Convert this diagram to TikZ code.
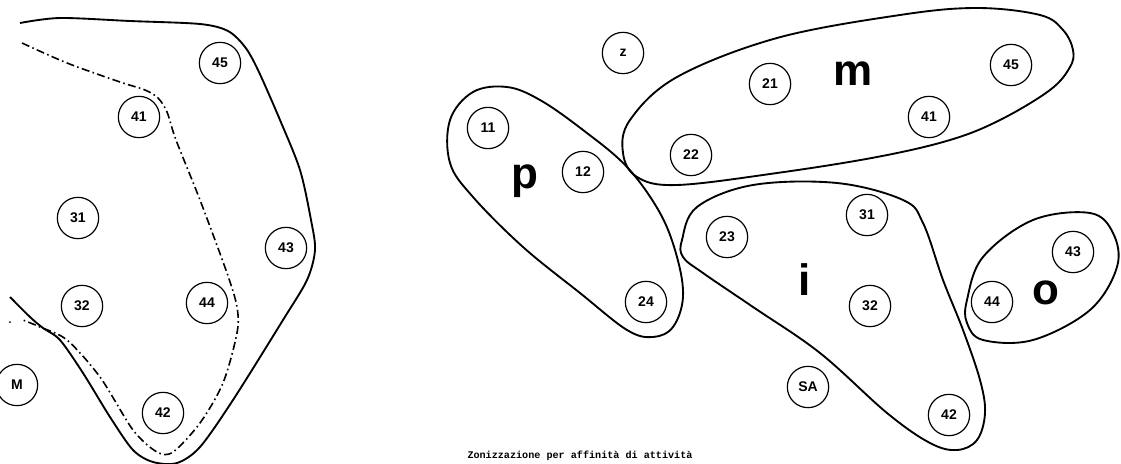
\documentclass[tikz,border=0pt]{standalone}
\usepackage{fontspec}
\setmainfont{Liberation Sans}
\newfontfamily\capfont{Liberation Mono}

\begin{document}
\begin{tikzpicture}[x=0.75pt,y=-0.75pt,
    room/.style={draw,circle,line width=0.9pt,minimum size=31pt,inner sep=0pt,font=\bfseries\fontsize{10.5}{11}\selectfont},
    zone/.style={font=\bfseries\fontsize{33}{33}\selectfont},
    blob/.style={line width=1.4pt}]
        \useasboundingbox (0,0) rectangle (1121,464);

        \node[room] (L45) at (220,63){45};
        \node[room] (L41) at (139,117){41};
        \node[room] (L31) at (78,218){31};
        \node[room] (L43) at (286,248){43};
        \node[room] (L32) at (82,306){32};
        \node[room] (L44) at (207,303){44};
        \node[room] (L42) at (163,413){42};

        \begin{scope}
        \clip (0,0) rectangle (1121,464);
        \node[room] (LM) at (17,385){M};
        \end{scope}

        \draw[blob] plot[smooth] coordinates {(20,23) (60,18) (130,21) (200,24) (228,31)
            (245,47) (258,70) (280,120) (300,170) (311,220) (315,250) (307,280) (283,320)
            (233,400) (200,447) (177,463) (153,462) (133,450) (110,417) (83,373) (60,340)
            (43,328) (30,317) (10,297)};
        \draw[line width=1.2pt,dash pattern=on 6pt off 2.5pt on 1.2pt off 2.5pt] plot[smooth] coordinates {(22,43) (67,63) (120,82) (145,90)
            (158,98) (167,112) (176,140) (200,200) (227,273) (237,307) (237,333) (223,383)
            (200,423) (173,452) (157,452) (133,430) (100,377) (67,340) (40,327) (23,320)};
        \fill (10,322) circle(1);


        \node[room] (z) at (623,53){z};

        \node[room] (R11) at (488,128){11};
        \node[room] (R12) at (583,172){12};
        \node[room] (R24) at (646,302){24};
        \node[zone] (p) at (525,181){p};
        \draw[blob] plot[smooth cycle,tension=0.6] coordinates {(450,120) (473,92) (507,87) (540,100)
            (583,130) (627,167) (660,213) (677,257) (683,297) (673,327) (653,337) (627,330)
            (580,293) (523,247) (473,197) (450,163)};

        \node[room] (R21) at (770,84){21};
        \node[room] (R22) at (691,155){22};
        \node[room] (R41) at (929,117){41};
        \node[room] (R45) at (1011,65){45};
        \node[zone] (m) at (853,74){m};
        \draw[blob] plot[smooth cycle,tension=0.6] coordinates {(623,153) (630,120) (677,77) (777,38)
            (900,15) (977,8) (1040,15) (1063,30) (1073,50) (1070,67) (1050,90) (1000,120)
            (950,140) (877,157) (777,173) (677,185) (637,177)};

        \node[room] (R23) at (727,237){23};
        \node[room] (R31) at (867,215){31};
        \node[room] (R32) at (870,306){32};
        \node[room] (SA) at (808,387){SA};
        \node[room] (R42) at (949,415){42};
        \node[zone] (i) at (805,280){i};
        \draw[blob] plot[smooth cycle,tension=0.6] coordinates {(682,240) (697,207) (753,185) (837,183)
            (903,200) (923,223) (943,280) (963,330) (980,380) (985,413) (977,440) (957,450)
            (930,443) (887,413) (820,353) (753,307) (703,273) (683,257)};

        \node[room] (R44) at (992,302){44};
        \node[room] (R43) at (1073,252){43};
        \node[zone] (o) at (1046,293){o};
        \draw[blob] plot[smooth cycle,tension=0.6] coordinates {(967,300) (983,257) (1033,220) (1090,213)
            (1113,233) (1117,267) (1090,310) (1033,340) (983,340) (967,323)};

        \node[font=\capfont\bfseries\fontsize{7.6}{8}\selectfont] (caption) at (580,456){Zonizzazione per affinità di attività};
    \end{tikzpicture}
\end{document}
